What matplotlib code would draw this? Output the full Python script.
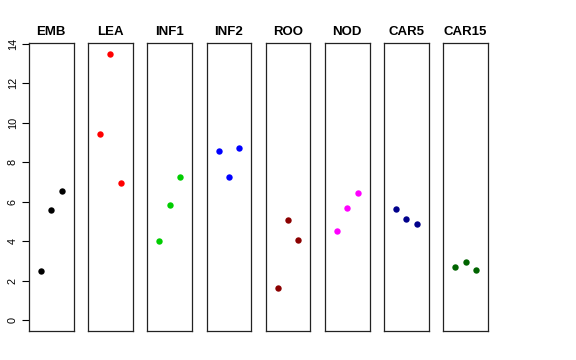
import matplotlib
matplotlib.use("Agg")
import matplotlib.pyplot as plt

plt.rcParams['font.family'] = ['Liberation Sans', 'DejaVu Sans']

# tissues and their three values each
tissues = ["EMB", "LEA", "INF1", "INF2", "ROO", "NOD", "CAR5", "CAR15"]
colors = ["black", "red", "#00CD00", "blue", "#8B0000", "magenta", "#00008B", "#006400"]
values = [
    [2.51, 5.59, 6.55],
    [9.44, 13.48, 6.94],
    [4.04, 5.86, 7.25],
    [8.58, 7.25, 8.70],
    [1.62, 5.10, 4.06],
    [4.51, 5.71, 6.43],
    [5.64, 5.15, 4.88],
    [2.68, 2.93, 2.56],
]
yticks = [0, 2, 4, 6, 8, 10, 12, 14]

fig = plt.figure(figsize=(5.76, 3.6), dpi=100)

left0 = 29 / 576
step = 59.2 / 576
width = 44.5 / 576
bottom = 1 - 331 / 360
height = (331 - 43) / 360

for i, (name, col, vals) in enumerate(zip(tissues, colors, values)):
    ax = fig.add_axes([left0 + i * step, bottom, width, height])
    ax.plot([1, 2, 3], vals, "o", color=col, markersize=4.6, markeredgewidth=0)
    ax.set_xlim(-0.16, 4.16)
    ax.set_ylim(-0.54, 14.04)
    ax.set_xticks([])
    for s in ax.spines.values():
        s.set_linewidth(0.9)
        s.set_color("#222222")
    ax.set_title(name, fontsize=9.5, fontweight="bold", pad=6)
    if i == 0:
        ax.set_yticks(yticks)
        ax.set_yticklabels([str(t) for t in yticks], rotation=90, va="center", fontsize=7.8)
        ax.tick_params(axis="y", length=5, width=0.8, pad=3)
    else:
        ax.set_yticks([])

fig.savefig("out.png", dpi=100)
